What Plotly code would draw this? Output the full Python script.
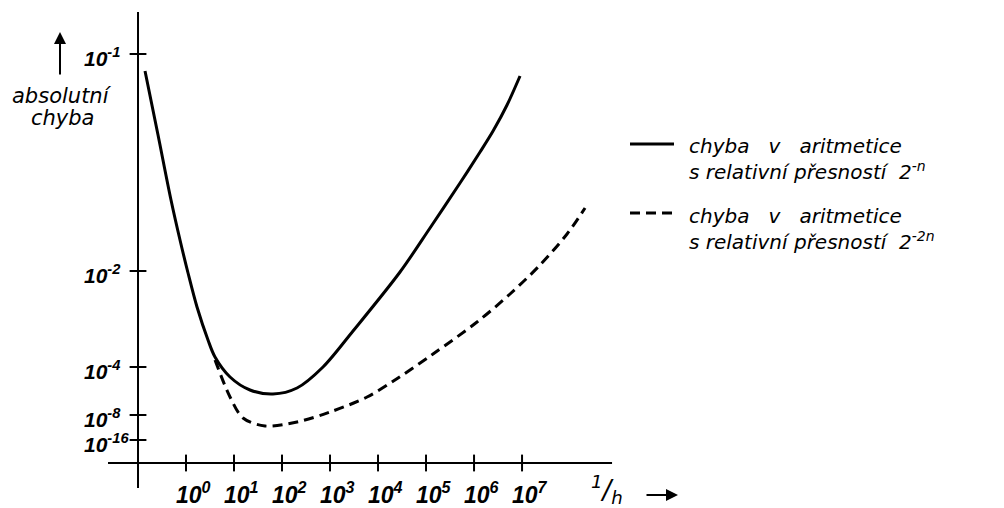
import plotly.graph_objects as go

# ---- data (x: log10(1/h), y: position on the schematic error axis) ----
x_tick_exp = [0, 1, 2, 3, 4, 5, 6, 7]
x_tick_labels = ["10<sup>0</sup>", "10<sup>1</sup>", "10<sup>2</sup>", "10<sup>3</sup>",
                 "10<sup>4</sup>", "10<sup>5</sup>", "10<sup>6</sup>", "10<sup>7</sup>"]
y_tick_pos = [40.9, 19.2, 9.6, 4.8, 2.3]
y_tick_labels = ["10<sup>-1</sup>", "10<sup>-2</sup>", "10<sup>-4</sup>",
                 "10<sup>-8</sup>", "10<sup>-16</sup>"]

solid_x = [-0.854, -0.583, -0.3125, -0.125, 0.042, 0.229, 0.458, 0.604, 0.917,
           1.333, 1.8125, 2.3125, 2.854, 3.479, 4.458, 5.083, 5.708, 6.125,
           6.396, 6.6875, 6.958]
solid_y = [39.2, 32.8, 26.3, 22.3, 19.0, 15.6, 12.3, 10.6, 8.6,
           7.3, 6.9, 7.5, 9.6, 13.2, 19.1, 23.5, 28.0, 31.1,
           33.2, 35.8, 38.7]

dashed_x = [0.604, 0.917, 1.1875, 1.646, 2.3125, 3.0, 3.771, 4.417, 5.146,
            6.0625, 6.75, 7.375, 7.9375, 8.3125]
dashed_y = [10.3, 6.6, 4.5, 3.7, 4.1, 5.1, 6.6, 8.5, 10.9,
            14.1, 16.9, 19.8, 22.9, 25.5]

NB = "\u00a0"
legend_lines = [
    "chyba" + NB * 3 + "v" + NB * 3 + "aritmetice<br>s relativní přesností" + NB * 2 + "2<sup>-n</sup>",
    "chyba" + NB * 3 + "v" + NB * 3 + "aritmetice<br>s relativní přesností" + NB * 2 + "2<sup>-2n</sup>",
]

W, H = 1004, 508
X_RANGE = [-3.875, 17.04]
Y_RANGE = [-4.5, 46.3]
FONT = "DejaVu Sans"
NUMFONT = "Liberation Sans"

def px(x):
    return x / W

def py(y):
    return 1 - y / H

fig = go.Figure()

fig.add_trace(go.Scatter(x=solid_x, y=solid_y, mode="lines",
                         line=dict(color="black", width=3, shape="spline", smoothing=0.9),
                         name="chyba v aritmetice s relativní přesností 2^-n",
                         showlegend=False))
fig.add_trace(go.Scatter(x=dashed_x, y=dashed_y, mode="lines",
                         line=dict(color="black", width=3, shape="spline", smoothing=0.9,
                                   dash="10px,6px"),
                         name="chyba v aritmetice s relativní přesností 2^-2n",
                         showlegend=False))

# tick marks crossing the axes
fig.add_trace(go.Scatter(x=x_tick_exp, y=[0] * len(x_tick_exp), mode="markers",
                         marker=dict(symbol="line-ns", size=12,
                                     line=dict(color="black", width=2)),
                         showlegend=False, hoverinfo="skip", cliponaxis=False))
fig.add_trace(go.Scatter(x=[-1] * len(y_tick_pos), y=y_tick_pos, mode="markers",
                         marker=dict(symbol="line-ew", size=12,
                                     line=dict(color="black", width=2)),
                         showlegend=False, hoverinfo="skip", cliponaxis=False))

shapes = [
    # x axis
    dict(type="line", xref="x", yref="y", x0=-1.625, x1=8.875, y0=0, y1=0,
         line=dict(color="black", width=2)),
    # y axis
    dict(type="line", xref="x", yref="y", x0=-1, x1=-1, y0=-2.5, y1=45.1,
         line=dict(color="black", width=2)),
    # legend samples
    dict(type="line", xref="paper", yref="paper", x0=px(630), x1=px(674),
         y0=py(144), y1=py(144), line=dict(color="black", width=3)),
    dict(type="line", xref="paper", yref="paper", x0=px(630), x1=px(674),
         y0=py(213), y1=py(213), line=dict(color="black", width=3, dash="10px,6px")),
]

ann = []
for e, t in zip(x_tick_exp, x_tick_labels):
    ann.append(dict(x=e, xref="x", y=py(490), yref="paper", text="<i>" + t + "</i>",
                    showarrow=False, xanchor="left", yanchor="middle", xshift=-12,
                    yshift=-3, font=dict(family=NUMFONT, size=23, color="black",
                                         weight="bold")))
for v, t in zip(y_tick_pos, y_tick_labels):
    ann.append(dict(x=px(82), xref="paper", y=v, yref="y", text="<i>" + t + "</i>",
                    showarrow=False, xanchor="left", yanchor="middle", yshift=-3,
                    font=dict(family=NUMFONT, size=21, color="black", weight="bold")))

# y axis title with arrow
ann.append(dict(x=px(62), y=py(96), xref="paper", yref="paper", text="<i>absolutní</i>",
                showarrow=False, xanchor="center", yanchor="middle",
                font=dict(family=FONT, size=21, color="black")))
ann.append(dict(x=px(62), y=py(118), xref="paper", yref="paper", text="<i>chyba</i>",
                showarrow=False, xanchor="center", yanchor="middle",
                font=dict(family=FONT, size=21, color="black")))
ann.append(dict(x=px(60), y=py(32), xref="paper", yref="paper", text="",
                showarrow=True, ax=0, ay=44,
                arrowhead=2, arrowsize=1.2, arrowwidth=2, arrowcolor="black"))

# x axis title with arrow
ann.append(dict(x=px(607), y=py(489), xref="paper", yref="paper",
                text="<i><sup>1</sup>/<sub>h</sub></i>", showarrow=False,
                xanchor="center", yanchor="middle",
                font=dict(family=FONT, size=26, color="black")))
ann.append(dict(x=px(678), y=py(495), xref="paper", yref="paper", text="",
                showarrow=True, ax=-33, ay=0, arrowhead=2, arrowsize=1.2,
                arrowwidth=2, arrowcolor="black"))

# legend text
for ytop, t in zip([132, 202], legend_lines):
    ann.append(dict(x=px(687), y=py(ytop), xref="paper", yref="paper",
                    text="<i>" + t + "</i>", showarrow=False, align="left",
                    xanchor="left", yanchor="top",
                    font=dict(family=FONT, size=20, color="black")))

fig.update_layout(
    width=W, height=H,
    margin=dict(l=0, r=0, t=0, b=0),
    paper_bgcolor="white", plot_bgcolor="white",
    xaxis=dict(range=X_RANGE, visible=False, fixedrange=True),
    yaxis=dict(range=Y_RANGE, visible=False, fixedrange=True),
    shapes=shapes, annotations=ann, showlegend=False,
)

fig.write_html("out.html", config={"displayModeBar": False},
               post_script="document.body.style.margin='0px';"
                           "document.body.style.overflow='hidden';")
